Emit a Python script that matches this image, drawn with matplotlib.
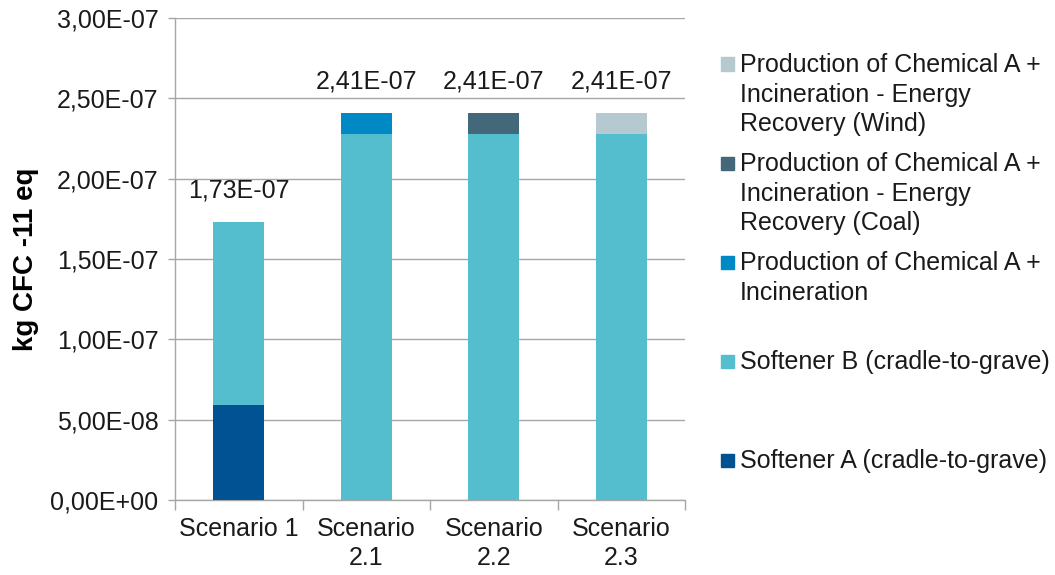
import matplotlib.pyplot as plt
from matplotlib.patches import Rectangle
from matplotlib.ticker import FuncFormatter, FixedLocator
import numpy as np

plt.rcParams['font.family'] = ['Liberation Sans', 'DejaVu Sans']

# Data (kg CFC-11 eq)
scenarios = ["Scenario 1", "Scenario\n2.1", "Scenario\n2.2", "Scenario\n2.3"]
softener_a = [5.9e-8, 0, 0, 0]
softener_b = [1.14e-7, 2.28e-7, 2.28e-7, 2.28e-7]
chem_incin = [0, 1.3e-8, 0, 0]
chem_coal = [0, 0, 1.3e-8, 0]
chem_wind = [0, 0, 0, 1.3e-8]

series = [
    ("Softener A (cradle-to-grave)", softener_a, "#005293"),
    ("Softener B (cradle-to-grave)", softener_b, "#54BECE"),
    ("Production of Chemical A +\nIncineration", chem_incin, "#0089C4"),
    ("Production of Chemical A +\nIncineration - Energy\nRecovery (Coal)", chem_coal, "#43687A"),
    ("Production of Chemical A +\nIncineration - Energy\nRecovery (Wind)", chem_wind, "#B7C9D0"),
]

FS = 18
W, H = 1055, 575
fig = plt.figure(figsize=(W / 100, H / 100), dpi=100)
ax = fig.add_axes([175 / W, 1 - 500 / H, 510 / W, 482 / H])

x = np.arange(len(scenarios))
bottom = np.zeros(len(scenarios))
for label, vals, color in series:
    vals = np.array(vals)
    ax.bar(x, vals, 0.4, bottom=bottom, color=color, edgecolor='none', zorder=3)
    bottom += vals

# totals above bars
for xi, tot in zip(x, bottom):
    ax.text(xi, tot + 0.12e-7, f"{tot:.2E}".replace('.', ','), ha='center', va='bottom',
            fontsize=FS, color='#1a1a1a')

ax.set_xlim(-0.5, len(scenarios) - 0.5)
ax.set_ylim(0, 3e-7)
ax.set_yticks(np.arange(0, 3.01e-7, 0.5e-7))
ax.yaxis.set_major_formatter(FuncFormatter(lambda v, p: f"{v:.2E}".replace('.', ',')))
ax.set_xticks(x)
ax.set_xticklabels(scenarios, linespacing=1.3)
ax.xaxis.set_minor_locator(FixedLocator(np.arange(-0.5, len(scenarios), 1.0)))
ax.tick_params(axis='x', which='major', length=0, pad=12, labelsize=FS, labelcolor='#1a1a1a')
ax.tick_params(axis='x', which='minor', length=7, width=1, color='#A6A6A6')
ax.tick_params(axis='y', length=5, width=1, color='#A6A6A6', pad=7, labelsize=FS,
               labelcolor='#1a1a1a')

ax.grid(axis='y', color='#A6A6A6', linewidth=1, zorder=0)
for s in ['top', 'right']:
    ax.spines[s].set_visible(False)
for s in ['left', 'bottom']:
    ax.spines[s].set_color('#A6A6A6')
    ax.spines[s].set_linewidth(1)

ax.set_ylabel("kg CFC -11 eq", fontsize=20, fontweight='bold', labelpad=8)

# legend, entries laid out top to bottom (reverse stack order)
first_line_y = [64, 163, 262, 361, 460]
for (label, vals, color), yy in zip(reversed(series), first_line_y):
    fig.add_artist(Rectangle((721 / W, 1 - (yy + 6.5) / H), 13 / W, 13 / H,
                             transform=fig.transFigure, color=color))
    fig.text(740 / W, 1 - (yy - 11) / H, label, ha='left', va='top', fontsize=FS,
             color='#1a1a1a', linespacing=1.3)

fig.savefig('out.png', dpi=100)
